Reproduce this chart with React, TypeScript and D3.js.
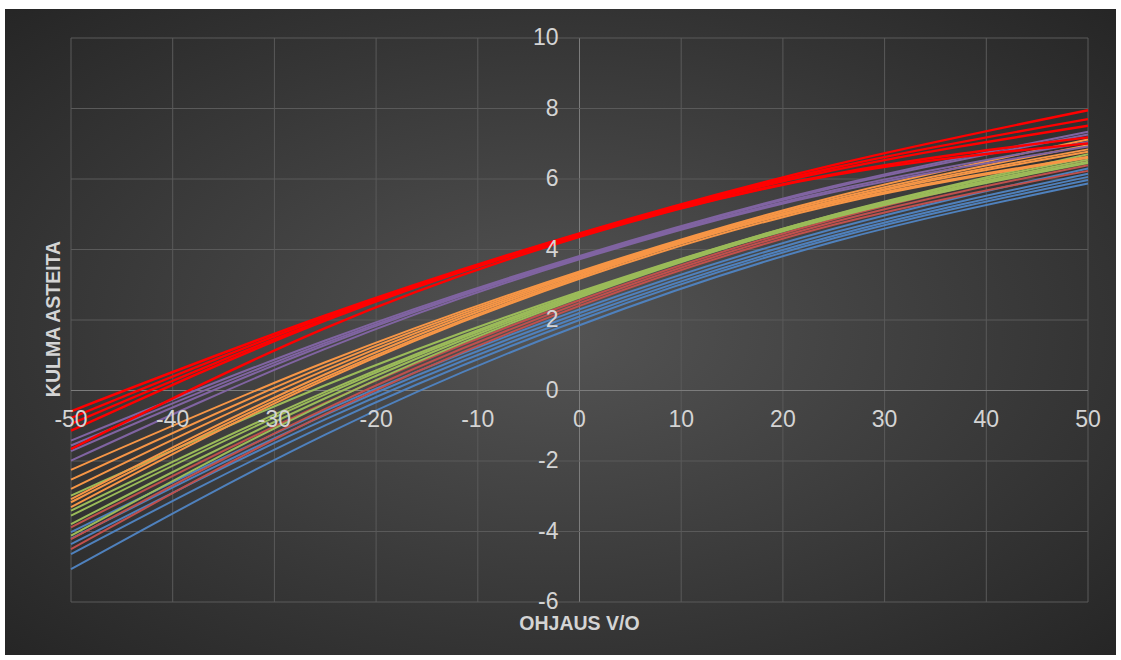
import React from "react";
import * as d3 from "d3";

const xPoints = [-50, -25, 0, 25, 50];
const xTicks = [-50, -40, -30, -20, -10, 0, 10, 20, 30, 40, 50];
const yTicks = [-6, -4, -2, 0, 2, 4, 6, 8, 10];

const redSeries = [
  [-0.59, 2.13, 4.46, 6.4, 7.95],
  [-0.78, 2.08, 4.44, 6.32, 7.7],
  [-0.95, 2.02, 4.42, 6.25, 7.51],
  [-1.14, 1.98, 4.4, 6.14, 7.18],
  [-1.66, 1.77, 4.36, 6.11, 7.01],
];
const purpleSeries = [
  [-1.42, 1.42, 3.82, 5.8, 7.34],
  [-1.56, 1.35, 3.79, 5.76, 7.26],
  [-1.72, 1.29, 3.76, 5.68, 7.05],
  [-1.99, 1.18, 3.72, 5.63, 6.92],
];
const orangeSeries = [
  [-2.25, 0.8, 3.38, 5.49, 7.12],
  [-2.53, 0.69, 3.34, 5.43, 6.96],
  [-2.79, 0.58, 3.3, 5.36, 6.77],
  [-3.08, 0.46, 3.26, 5.32, 6.63],
  [-3.17, 0.37, 3.22, 5.38, 6.84],
  [-3.31, 0.31, 3.17, 5.27, 6.6],
];
const greenSeries = [
  [-2.98, 0.15, 2.8, 4.99, 6.7],
  [-3.41, -0.04, 2.76, 4.98, 6.62],
  [-3.55, -0.11, 2.72, 4.94, 6.55],
  [-3.79, -0.22, 2.68, 4.92, 6.49],
  [-4.12, -0.37, 2.64, 4.91, 6.45],
];
const brownSeries = [
  [-3.88, -0.35, 2.56, 4.86, 6.55],
  [-4.22, -0.52, 2.48, 4.78, 6.39],
  [-4.5, -0.67, 2.4, 4.7, 6.23],
];
const blueSeries = [
  [-4.02, -0.57, 2.3, 4.59, 6.3],
  [-4.2, -0.69, 2.2, 4.48, 6.15],
  [-4.36, -0.82, 2.1, 4.39, 6.06],
  [-4.64, -0.99, 2.0, 4.32, 5.97],
  [-5.07, -1.25, 1.85, 4.22, 5.87],
];

const groups = [
  { color: "#4F81BD", width: 2, data: blueSeries },
  { color: "#C0504D", width: 2, data: brownSeries },
  { color: "#9BBB59", width: 2, data: greenSeries },
  { color: "#F79646", width: 2, data: orangeSeries },
  { color: "#8064A2", width: 2, data: purpleSeries },
  { color: "#FF0000", width: 2.4, data: redSeries },
];

const W = 1121;
const H = 660;
const left = 71;
const right = 1088;
const top = 38;
const bottom = 602;

export default function App() {
  const x = d3.scaleLinear().domain([-50, 50]).range([left, right]);
  const y = d3.scaleLinear().domain([-6, 10]).range([bottom, top]);
  const line = d3
    .line<number>()
    .x((_, i) => x(xPoints[i]))
    .y((d) => y(d))
    .curve(d3.curveNatural);

  const labelFont = "'Liberation Sans Narrow', 'Liberation Sans', Arial, sans-serif";
  const titleFont = "'Liberation Sans', Arial, sans-serif";

  return (
    <svg
      width={W}
      height={H}
      style={{ position: "absolute", left: 0, top: 0, background: "#fff" }}
    >
      <defs>
        <radialGradient id="bg" cx="50%" cy="50%" r="70%">
          <stop offset="0%" stopColor="#545454" />
          <stop offset="100%" stopColor="#262626" />
        </radialGradient>
      </defs>
      <rect x={5} y={9} width={1111} height={646} fill="url(#bg)" />
      {xTicks.map((t) => (
        <line
          key={"gx" + t}
          x1={x(t)}
          x2={x(t)}
          y1={top}
          y2={bottom}
          stroke={t === 0 ? "#7c7c7c" : "#5a5a5a"}
          strokeWidth={1}
        />
      ))}
      {yTicks.map((t) => (
        <line
          key={"gy" + t}
          x1={left}
          x2={right}
          y1={y(t)}
          y2={y(t)}
          stroke={t === 0 ? "#7c7c7c" : "#5a5a5a"}
          strokeWidth={1}
        />
      ))}
      {groups.map((g, gi) =>
        g.data.map((s, si) => (
          <path
            key={gi + "-" + si}
            d={line(s) || ""}
            fill="none"
            stroke={g.color}
            strokeWidth={g.width}
          />
        ))
      )}
      {xTicks.map((t) => (
        <text
          key={"tx" + t}
          x={x(t)}
          y={y(0) + 36}
          textAnchor="middle"
          fontFamily={labelFont}
          fontSize={23}
          fill="#d4d4d4"
        >
          {t}
        </text>
      ))}
      {yTicks.map((t) => (
        <text
          key={"ty" + t}
          x={x(0) - 21}
          y={y(t) + 7}
          textAnchor="end"
          fontFamily={labelFont}
          fontSize={23}
          fill="#d4d4d4"
        >
          {t}
        </text>
      ))}
      <text
        x={x(0)}
        y={630}
        textAnchor="middle"
        fontFamily={titleFont}
        fontWeight="bold"
        fontSize={19.5}
        fill="#d4d4d4"
      >
        OHJAUS V/O
      </text>
      <text
        transform={`translate(60, 319) rotate(-90)`}
        textAnchor="middle"
        fontFamily={titleFont}
        fontWeight="bold"
        fontSize={19.5}
        fill="#d4d4d4"
      >
        KULMA ASTEITA
      </text>
    </svg>
  );
}
